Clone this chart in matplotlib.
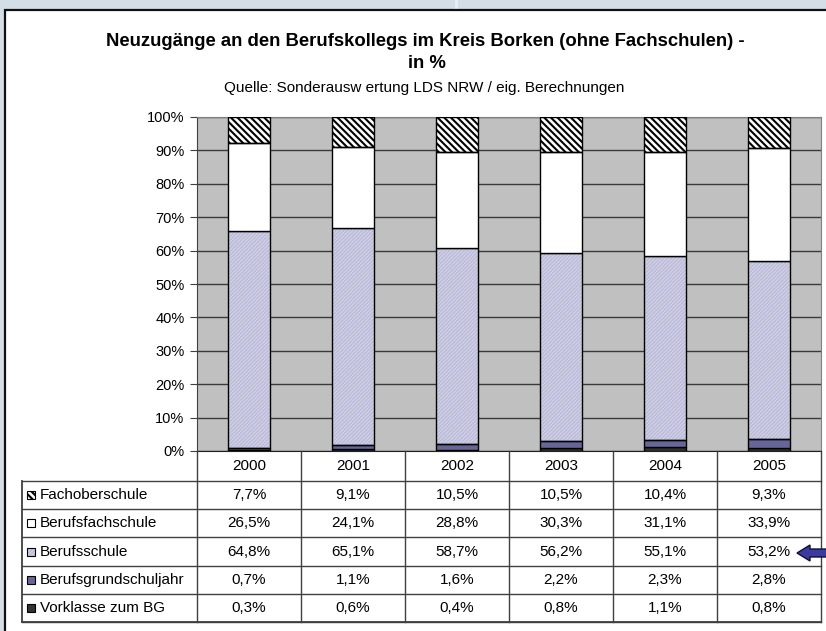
import numpy as np
import matplotlib
matplotlib.use("Agg")
import matplotlib.pyplot as plt
from matplotlib.patches import Rectangle, FancyArrow

plt.rcParams['font.family'] = ['Liberation Sans', 'DejaVu Sans']
plt.rcParams['hatch.linewidth'] = 1.5

years = ["2000", "2001", "2002", "2003", "2004", "2005"]
# rows of the table, top to bottom
series = ["Fachoberschule", "Berufsfachschule", "Berufsschule",
          "Berufsgrundschuljahr", "Vorklasse zum BG"]
fachober = [7.7, 9.1, 10.5, 10.5, 10.4, 9.3]
berufsfach = [26.5, 24.1, 28.8, 30.3, 31.1, 33.9]
berufsschule = [64.8, 65.1, 58.7, 56.2, 55.1, 53.2]
bgj = [0.7, 1.1, 1.6, 2.2, 2.3, 2.8]
vorklasse = [0.3, 0.6, 0.4, 0.8, 1.1, 0.8]

values = [fachober, berufsfach, berufsschule, bgj, vorklasse]
# style per series: facecolor, hatch, hatch colour
styles = [("white", "\\" * 5, "black"),
          ("white", None, None),
          ("#e6e6f2", "/////////", "#bdbdda"),
          ("#666699", None, None),
          ("#333333", None, None)]

W, H = 826, 631
fig = plt.figure(figsize=(W / 100, H / 100), dpi=100)
fig.patch.set_facecolor("#d3dee6")

# faint stripe of the slide background
fig.add_artist(Rectangle((455 / W, 0), 3 / W, 1, transform=fig.transFigure,
                         facecolor="#e6edf2", edgecolor="none", zorder=0))
# white chart area
fig.add_artist(Rectangle((5 / W, -0.01), 1, 1 - 10 / H + 0.01, transform=fig.transFigure,
                         facecolor="white", edgecolor="#111111", linewidth=1.6, zorder=1))

fig.text(425 / W, 1 - 42 / H, "Neuzugänge an den Berufskollegs im Kreis Borken (ohne Fachschulen) -",
         ha="center", va="center", fontsize=13.3, fontweight="bold", zorder=3)
fig.text(427 / W, 1 - 63 / H, "in %", ha="center", va="center", fontsize=13.3,
         fontweight="bold", zorder=3)
fig.text(424 / W, 1 - 88 / H, "Quelle: Sonderausw ertung LDS NRW / eig. Berechnungen",
         ha="center", va="center", fontsize=11, zorder=3)

# plot area
left, right, top, bottom = 197, 821, 117, 451
ax = fig.add_axes([left / W, 1 - bottom / H, (right - left) / W, (bottom - top) / H])
ax.set_zorder(2)
ax.set_facecolor("#c0c0c0")
x = np.arange(len(years))
bw = 0.395

base = np.zeros(len(years))
for vals, (fc, hatch, hc) in reversed(list(zip(values, styles))):
    vals = np.array(vals)
    if hatch:
        ax.bar(x, vals, bw, bottom=base, color=fc, edgecolor=hc, linewidth=0,
               hatch=hatch, zorder=2)
        ax.bar(x, vals, bw, bottom=base, fill=False, edgecolor="black",
               linewidth=1, zorder=3)
    else:
        ax.bar(x, vals, bw, bottom=base, color=fc, edgecolor="black",
               linewidth=1, zorder=3)
    base += vals

ax.set_xlim(-0.5, len(years) - 0.5)
ax.set_ylim(0, 100)
ax.set_yticks(np.arange(0, 101, 10))
ax.set_yticklabels([f"{v}%" for v in range(0, 101, 10)], fontsize=10.5)
ax.set_xticks([])
ax.yaxis.grid(True, color="#3a3a3a", linewidth=1)
ax.set_axisbelow(True)
ax.tick_params(axis="y", direction="out", length=5, color="#404040", pad=4)
for s in ax.spines.values():
    s.set_color("#808080")
ax.spines["left"].set_color("#404040")
ax.spines["bottom"].set_color("#202020")

# data table
unit = (right - left) / len(years)
tleft, tbottom = 22, 622
tax = fig.add_axes([tleft / W, 1 - tbottom / H, (right - tleft) / W, (tbottom - bottom) / H])
tax.set_zorder(2)
tax.patch.set_alpha(0)
tax.axis("off")
x0 = -0.5 - (left - tleft) / unit
hdr = 30 / 28.2
tax.set_xlim(x0, len(years) - 0.5)
tax.set_ylim(len(series), -hdr)

lc = "#404040"
for i in range(len(series) + 1):
    tax.plot([x0, len(years) - 0.5], [i, i], color=lc, linewidth=1, clip_on=False)
tax.plot([x0, x0], [0, len(series)], color=lc, linewidth=1.3, clip_on=False)
tax.plot([x0, len(years) - 0.5], [len(series), len(series)], color=lc, linewidth=1.3,
         clip_on=False)
for k in range(len(years) + 1):
    tax.plot([k - 0.5, k - 0.5], [-hdr, len(series)], color=lc, linewidth=1, clip_on=False)

for k, yr in enumerate(years):
    tax.text(k, -hdr / 2, yr, ha="center", va="center", fontsize=11)

kx = x0 + 5 / unit
kw, kh = 8 / unit, 8 / 28.2
for i, (name, vals, (fc, hatch, hc)) in enumerate(zip(series, values, styles)):
    if hatch:
        tax.add_patch(Rectangle((kx, i + 0.5 - kh / 2), kw, kh, facecolor=fc,
                                edgecolor=hc, linewidth=0, hatch=hatch))
        tax.add_patch(Rectangle((kx, i + 0.5 - kh / 2), kw, kh, fill=False,
                                edgecolor="black", linewidth=0.8))
    else:
        tax.add_patch(Rectangle((kx, i + 0.5 - kh / 2), kw, kh, facecolor=fc,
                                edgecolor="black", linewidth=0.8))
    tax.text(kx + kw + 5 / unit, i + 0.5, name, ha="left", va="center", fontsize=11)
    for k, v in enumerate(vals):
        tax.text(k, i + 0.5, f"{v:.1f}%".replace(".", ","), ha="center",
                 va="center", fontsize=11)

# arrow pointing at the 2005 Berufsschule value
fig.add_artist(FancyArrow(835 / W, 1 - 553 / H, -38 / W, 0, width=8 / H,
                          head_width=16 / H, head_length=13 / W,
                          length_includes_head=True, transform=fig.transFigure,
                          facecolor="#3a3aa0", edgecolor="#111133", linewidth=1, zorder=5))

fig.savefig("out.png", dpi=100, facecolor=fig.get_facecolor())
